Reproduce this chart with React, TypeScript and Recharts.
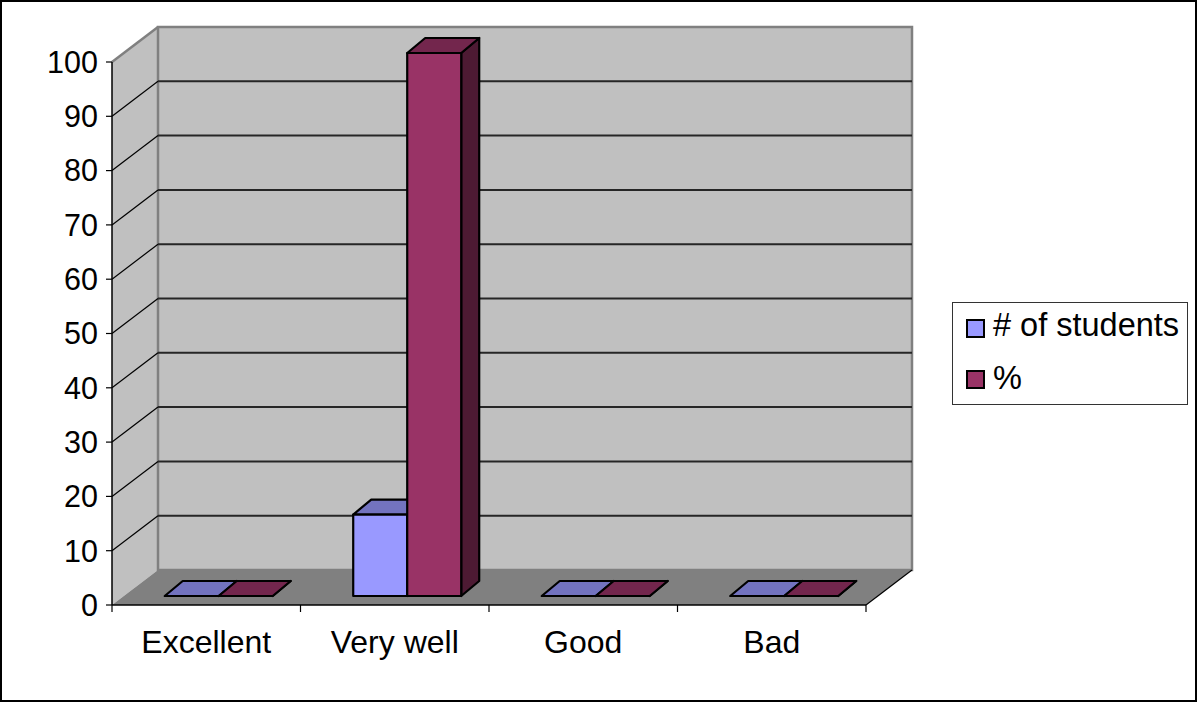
import React from 'react';
import { BarChart, Bar, XAxis, YAxis, Legend, ReferenceArea, ReferenceLine } from 'recharts';

const categories = ['Excellent', 'Very well', 'Good', 'Bad'];
const studentCounts = [0, 15, 0, 0];
const percentValues = [0, 100, 0, 0];
const yTicks = [0, 10, 20, 30, 40, 50, 60, 70, 80, 90, 100];

const data = categories.map((name, i) => ({
  name,
  students: studentCounts[i],
  percent: percentValues[i],
}));

const FONT = '"Liberation Sans", Arial, sans-serif';

// depth of the box behind the front plane
const WALL_DX = 46;
const WALL_DY = -35;
// bars stand a little behind the front plane
const BAR_SHIFT_X = 12;
const BAR_SHIFT_Y = -9;
const BAR_DX = 18;
const BAR_DY = -15;

const Walls = (p: any) => {
  const { x, y, width: w, height: h } = p;
  const b = y + h;
  return (
    <g>
      {/* left side wall */}
      <polygon
        points={`${x},${b} ${x},${y} ${x + WALL_DX},${y + WALL_DY} ${x + WALL_DX},${b + WALL_DY}`}
        fill="#c0c0c0"
      />
      {/* back wall */}
      <rect x={x + WALL_DX} y={y + WALL_DY} width={w} height={h} fill="#c0c0c0" stroke="#808080" strokeWidth={2.5} />
      {/* floor */}
      <polygon
        points={`${x},${b} ${x + w},${b} ${x + w + WALL_DX},${b + WALL_DY} ${x + WALL_DX},${b + WALL_DY}`}
        fill="#808080"
      />
      <line x1={x} y1={y} x2={x + WALL_DX} y2={y + WALL_DY} stroke="#808080" strokeWidth={2.5} />
      <line x1={x + w} y1={b} x2={x + w + WALL_DX} y2={b + WALL_DY} stroke="#000" strokeWidth={1.2} />
    </g>
  );
};

const GridLine = (p: any) => {
  const { x1, y1, x2 } = p;
  return (
    <g>
      <line x1={x1} y1={y1} x2={x1 + WALL_DX} y2={y1 + WALL_DY} stroke="#000" strokeWidth={1.2} />
      <line x1={x1 + WALL_DX} y1={y1 + WALL_DY} x2={x2 + WALL_DX} y2={y1 + WALL_DY} stroke="#262626" strokeWidth={2} />
    </g>
  );
};

const makeBox = (front: string, top: string, side: string) => (p: any) => {
  const x = p.x + BAR_SHIFT_X;
  const y = p.y + BAR_SHIFT_Y;
  const w = p.width;
  const h = p.height || 0;
  const b = y + h;
  return (
    <g stroke="#000" strokeWidth={2.2} strokeLinejoin="round">
      <polygon points={`${x + w},${y} ${x + w + BAR_DX},${y + BAR_DY} ${x + w + BAR_DX},${b + BAR_DY} ${x + w},${b}`} fill={side} />
      <polygon points={`${x},${y} ${x + w},${y} ${x + w + BAR_DX},${y + BAR_DY} ${x + BAR_DX},${y + BAR_DY}`} fill={top} />
      {h > 0 && <rect x={x} y={y} width={w} height={h} fill={front} />}
    </g>
  );
};

const CategoryTick = (p: any) => {
  const { x, y, payload, index, width, visibleTicksCount } = p;
  const band = width / visibleTicksCount;
  const left = x - band / 2;
  return (
    <g>
      <line x1={left} y1={y} x2={left} y2={y + 7} stroke="#000" strokeWidth={1.2} />
      {index === visibleTicksCount - 1 && (
        <line x1={left + band} y1={y} x2={left + band} y2={y + 7} stroke="#000" strokeWidth={1.2} />
      )}
      <text x={x} y={y + 48} textAnchor="middle" fontFamily={FONT} fontSize={32} fill="#000">
        {payload.value}
      </text>
    </g>
  );
};

const LegendBox = (props: any) => (
  <div
    style={{
      position: 'relative',
      boxSizing: 'border-box',
      width: 236,
      height: 103,
      border: '1.5px solid #333',
      background: '#fff',
      fontFamily: FONT,
      fontSize: 32.5,
      lineHeight: '32px',
      color: '#000',
    }}
  >
    {(props.payload || []).map((e: any, i: number) => (
      <React.Fragment key={i}>
        <span
          style={{
            position: 'absolute',
            left: 13,
            top: 16 + i * 51,
            width: 15,
            height: 15,
            border: '2px solid #000',
            background: e.color,
          }}
        />
        <span style={{ position: 'absolute', left: 40, top: 6 + i * 53, whiteSpace: 'nowrap' }}>{e.value}</span>
      </React.Fragment>
    ))}
  </div>
);

export default function App() {
  return (
    <div style={{ position: 'absolute', left: 0, top: 0, width: 1197, height: 702, background: '#fff' }}>
      <BarChart
        width={1197}
        height={702}
        data={data}
        margin={{ top: 62, right: 331, bottom: 37, left: 0 }}
        barCategoryGap="21.6%"
        barGap={0}
      >
        <ReferenceArea y1={0} y2={100} shape={Walls} ifOverflow="visible" zIndex={-300} />
        {yTicks
          .filter((t) => t > 0 && t < 100)
          .map((t) => (
            <ReferenceLine key={t} y={t} shape={GridLine} zIndex={-250} />
          ))}
        <XAxis
          dataKey="name"
          height={60}
          interval={0}
          tickSize={0}
          tickMargin={0}
          tickLine={false}
          axisLine={{ stroke: '#000', strokeWidth: 1.5 }}
          tick={CategoryTick}
        />
        <YAxis
          width={112}
          domain={[0, 100]}
          ticks={yTicks}
          interval={0}
          tickSize={6}
          tickMargin={8}
          axisLine={{ stroke: '#000', strokeWidth: 1.5 }}
          tickLine={{ stroke: '#000', strokeWidth: 1.2 }}
          tick={{ fill: '#000', fontSize: 30.5, fontFamily: FONT }}
        />
        <Legend
          layout="vertical"
          align="center"
          verticalAlign="middle"
          content={LegendBox}
          wrapperStyle={{ left: 952, top: 302, width: 236, height: 103 }}
        />
        <Bar
          dataKey="students"
          name="# of students"
          fill="#9999ff"
          shape={makeBox('#9999ff', '#7373bf', '#4d4d80')}
          isAnimationActive={false}
        />
        <Bar
          dataKey="percent"
          name="%"
          fill="#993366"
          shape={makeBox('#993366', '#73264d', '#4d1a33')}
          isAnimationActive={false}
        />
      </BarChart>
      <div
        style={{
          position: 'absolute',
          left: 0,
          top: 0,
          width: 1197,
          height: 702,
          boxSizing: 'border-box',
          border: '2px solid #000',
          pointerEvents: 'none',
        }}
      />
    </div>
  );
}
